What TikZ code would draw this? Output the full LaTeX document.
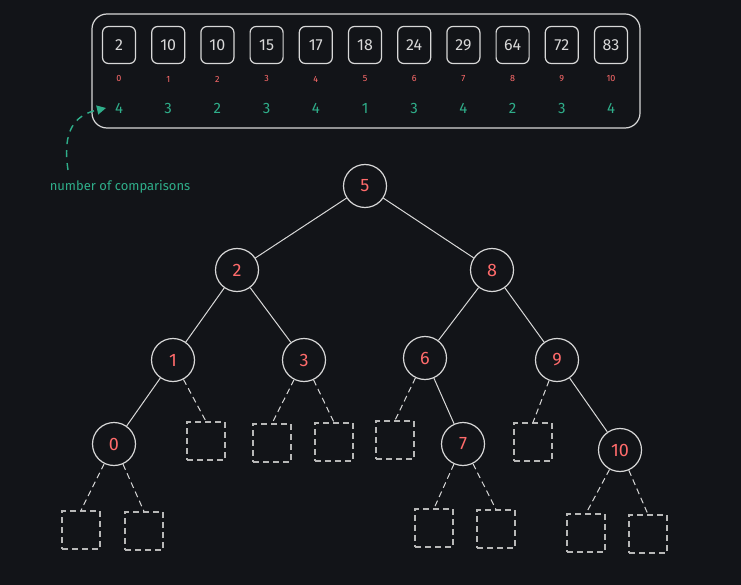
\documentclass[tikz,border=0pt]{standalone}
\usepackage{fontspec}
\setmainfont{Fira Sans}
\usetikzlibrary{arrows.meta}
\definecolor{bg}{HTML}{121418}
\definecolor{ln}{HTML}{D8D8D8}
\definecolor{rd}{HTML}{FF6B6B}
\definecolor{gr}{HTML}{2FAE8A}
\begin{document}
\begin{tikzpicture}[x=1pt,y=-1pt,
 cell/.style={draw=ln,line width=1.2pt,rounded corners=6pt,minimum width=33pt,minimum height=37pt,text=ln,font=\fontsize{16}{16}\selectfont},
 idx/.style={text=rd,font=\fontsize{9}{9}\selectfont},
 cnt/.style={text=gr,font=\fontsize{15}{15}\selectfont},
 tn/.style={circle,draw=ln,line width=1.2pt,minimum size=43pt,inner sep=0pt,text=rd,font=\fontsize{18}{18}\selectfont},
 leaf/.style={draw=ln!85!black,dash pattern=on 6pt off 4pt,line width=1.2pt,minimum size=38pt,inner sep=0pt},
 ed/.style={draw=ln,line width=1pt},
 de/.style={draw=ln,line width=1pt,dash pattern=on 6pt off 4pt}]
\fill[bg] (0,0) rectangle (741,585);
\useasboundingbox (0,0) rectangle (741,585);
\node[draw=ln,line width=1.2pt,rounded corners=15pt,minimum width=548pt,minimum height=114pt] (frame) at (366,71) {};
\foreach \v/\i [count=\k from 0] in {2/0,10/1,10/2,15/3,17/4,18/5,24/6,29/7,64/8,72/9,83/10}{
  \pgfmathsetmacro\xx{119+49.2*\k}
  \node[cell] (c\k) at (\xx,45) {\v};
  \node[idx] (i\k) at (\xx,79) {\i};
}
\foreach \c [count=\k from 0] in {4,3,2,3,4,1,3,4,2,3,4}{
  \pgfmathsetmacro\xx{119+49.2*\k}
  \node[cnt] (n\k) at (\xx,108) {\c};
}
\node[text=gr,font=\fontsize{13}{13}\selectfont] (lab) at (120,187) {number of comparisons};
\coordinate (as) at (68,170);
\coordinate (ae) at (106,108);
\draw[gr,line width=1.4pt,dash pattern=on 7pt off 6pt,-{Triangle[length=9pt,width=9pt]}] (as) .. controls (62,130) and (75,115) .. (ae);
\node[tn] (t5) at (365,186) {5};
\node[tn] (t2) at (237,270) {2};
\node[tn] (t8) at (492,270) {8};
\node[tn] (t1) at (173,360) {1};
\node[tn] (t3) at (304,360) {3};
\node[tn] (t6) at (425,358) {6};
\node[tn] (t9) at (557,360) {9};
\node[tn] (t0) at (114,444) {0};
\node[tn] (t7) at (463,444) {7};
\node[tn] (t10) at (620,450) {10};
\node[leaf] (l1) at (206,441) {};
\node[leaf] (l3a) at (272,443) {};
\node[leaf] (l3b) at (334,442) {};
\node[leaf] (l6) at (395,440) {};
\node[leaf] (l9) at (533,442) {};
\node[leaf] (l0a) at (81,530) {};
\node[leaf] (l0b) at (144,531) {};
\node[leaf] (l7a) at (434,528) {};
\node[leaf] (l7b) at (496,529) {};
\node[leaf] (l10a) at (586,533) {};
\node[leaf] (l10b) at (648,534) {};
\draw[ed] (t5)--(t2); \draw[ed] (t5)--(t8);
\draw[ed] (t2)--(t1); \draw[ed] (t2)--(t3);
\draw[ed] (t8)--(t6); \draw[ed] (t8)--(t9);
\draw[ed] (t1)--(t0); \draw[ed] (t6)--(t7); \draw[ed] (t9)--(t10);
\draw[de] (t1)--(l1.north);
\draw[de] (t3)--(l3a.north); \draw[de] (t3)--(l3b.north);
\draw[de] (t6)--(l6.north); \draw[de] (t9)--(l9.north);
\draw[de] (t0)--(l0a.north); \draw[de] (t0)--(l0b.north);
\draw[de] (t7)--(l7a.north); \draw[de] (t7)--(l7b.north);
\draw[de] (t10)--(l10a.north); \draw[de] (t10)--(l10b.north);
\end{tikzpicture}
\end{document}
